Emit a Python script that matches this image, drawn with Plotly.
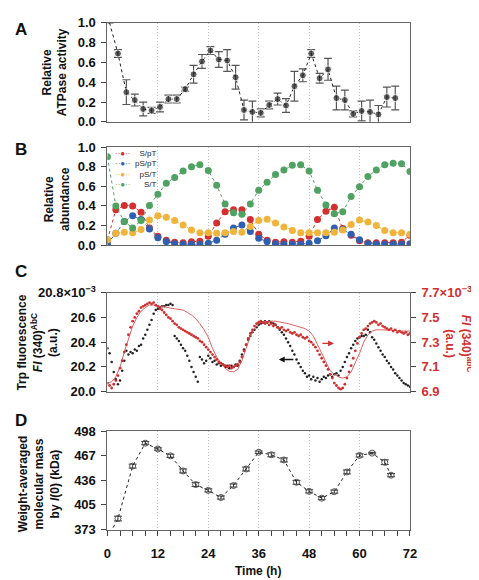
import plotly.graph_objects as go

# ---------------- Panel A: relative ATPase activity ----------------
A_time = [0.5 + 2 * i for i in range(35)]
A_val = [1.0, 0.69, 0.30, 0.22, 0.13, 0.115, 0.15, 0.23, 0.23, 0.33, 0.48,
         0.61, 0.72, 0.63, 0.62, 0.45, 0.12, 0.10, 0.09, 0.17, 0.23,
         0.165, 0.36, 0.47, 0.69, 0.44, 0.53, 0.24, 0.22, 0.08, 0.11,
         0.10, 0.075, 0.25, 0.24]
A_err = [0, 0.04, 0.125, 0.06, 0.07, 0.03, 0.05, 0.04, 0.04, 0.02, 0.09,
         0.07, 0.04, 0.08, 0.11, 0.12, 0.10, 0.11, 0.04, 0.04, 0.06,
         0.07, 0.15, 0.065, 0.04, 0.05, 0.11, 0.12, 0.10, 0.03, 0.10,
         0.12, 0.09, 0.10, 0.12]

# ---------------- Panel B: relative abundance ----------------
B_time = [2 * i for i in range(37)]
B_SpT = [0.055, 0.36, 0.405, 0.40, 0.335, 0.175, 0.09, 0.05, 0.03, 0.025,
         0.035, 0.04, 0.09, 0.225, 0.34, 0.36, 0.36, 0.26, 0.11, 0.05,
         0.03, 0.035, 0.03, 0.04, 0.09, 0.26, 0.345, 0.385, 0.17, 0.10,
         0.045, 0.025, 0.025, 0.025, 0.025, 0.03, 0.10]
B_pSpT = [0.015, 0.12, 0.24, 0.30, 0.26, 0.165, 0.075, 0.035, 0.015, 0.01,
          0.01, 0.01, 0.02, 0.05, 0.11, 0.175, 0.205, 0.14, 0.07, 0.035,
          0.015, 0.01, 0.01, 0.01, 0.02, 0.045, 0.095, 0.175, 0.16, 0.11,
          0.055, 0.015, 0.01, 0.01, 0.01, 0.01, 0.015]
B_pST = [0.055, 0.12, 0.13, 0.125, 0.16, 0.255, 0.30, 0.285, 0.25, 0.205,
         0.155, 0.125, 0.125, 0.12, 0.125, 0.14, 0.13, 0.19, 0.25, 0.265,
         0.225, 0.185, 0.15, 0.125, 0.125, 0.125, 0.125, 0.13, 0.155, 0.21,
         0.255, 0.235, 0.20, 0.15, 0.125, 0.125, 0.11]
B_ST = [0.90, 0.40, 0.24, 0.175, 0.25, 0.405, 0.52, 0.63, 0.69, 0.755,
        0.80, 0.82, 0.76, 0.61, 0.42, 0.33, 0.315, 0.42, 0.56, 0.64,
        0.72, 0.765, 0.815, 0.82, 0.755, 0.56, 0.41, 0.32, 0.34, 0.495,
        0.595, 0.70, 0.765, 0.82, 0.835, 0.83, 0.75]
B_names = ["S/pT", "pS/pT", "pS/T", "S/T"]
B_colors = ["#d42f2f", "#2f5fb0", "#f0b43a", "#4fa262"]

# ---------------- Panel C: Trp fluorescence ----------------
C_time = [0.5 * i for i in range(145)]
C_AbC = [20.35, 20.31, 20.24, 20.16, 20.10, 20.06, 20.09, 20.17, 20.25, 20.33,
         20.30, 20.32, 20.31, 20.34, 20.33, 20.37, 20.38, 20.43, 20.46, 20.50,
         20.54, 20.58, 20.63, 20.66, 20.67, 20.68, 20.69, 20.69, 20.70, 20.70,
         20.71, 20.70, 20.45, 20.43, 20.41, 20.38, 20.35, 20.33, 20.29, 20.25,
         20.20, 20.16, 20.12, 20.08, 20.28, 20.26, 20.23, 20.25, 20.29, 20.27,
         20.24, 20.25, 20.22, 20.23, 20.21, 20.22, 20.20, 20.21, 20.19, 20.21,
         20.20, 20.22, 20.21, 20.25, 20.30, 20.34, 20.38, 20.42, 20.45, 20.48,
         20.50, 20.52, 20.54, 20.55, 20.56, 20.57, 20.56, 20.57, 20.56, 20.55,
         20.54, 20.52, 20.50, 20.48, 20.46, 20.43, 20.40, 20.37, 20.33, 20.30,
         20.26, 20.23, 20.20, 20.17, 20.15, 20.12, 20.13, 20.10, 20.12, 20.09,
         20.11, 20.08, 20.10, 20.12, 20.11, 20.13, 20.14, 20.12, 20.14, 20.15,
         20.13, 20.17, 20.20, 20.24, 20.28, 20.31, 20.35, 20.38, 20.41, 20.43,
         20.44, 20.45, 20.45, 20.46, 20.50, 20.48, 20.44, 20.42, 20.39, 20.36,
         20.33, 20.30, 20.28, 20.25, 20.23, 20.20, 20.18, 20.15, 20.13, 20.11,
         20.09, 20.07, 20.06, 20.05, 20.04]
C_abC = [6.97, 6.95, 6.93, 6.96, 6.99, 7.03, 7.09, 7.15, 7.22, 7.28,
         7.36, 7.42, 7.47, 7.50, 7.53, 7.55, 7.58, 7.59, 7.60, 7.61,
         7.62, 7.61, 7.62, 7.60, 7.59, 7.57, 7.56, 7.54, 7.52, 7.50,
         7.49, 7.47, 7.45, 7.44, 7.42, 7.41, 7.40, 7.39, 7.38, 7.37,
         7.36, 7.35, 7.34, 7.33, 7.31, 7.30, 7.28, 7.26, 7.24, 7.22,
         7.20, 7.18, 7.16, 7.14, 7.13, 7.12, 7.11, 7.10, 7.11, 7.09,
         7.10, 7.11, 7.12, 7.14, 7.18, 7.23, 7.28, 7.33, 7.37, 7.40,
         7.43, 7.45, 7.46, 7.47, 7.46, 7.45, 7.46, 7.44, 7.45, 7.43,
         7.44, 7.42, 7.41, 7.42, 7.40, 7.39, 7.40, 7.38, 7.37, 7.38,
         7.36, 7.35, 7.36, 7.34, 7.33, 7.34, 7.31, 7.30, 7.28, 7.26,
         7.23, 7.20, 7.17, 7.14, 7.11, 7.08, 7.04, 7.01, 6.97, 6.95,
         6.93, 6.92, 6.93, 6.96, 7.01, 7.06, 7.11, 7.17, 7.23, 7.29,
         7.34, 7.37, 7.40, 7.41, 7.43, 7.45, 7.46, 7.47, 7.46, 7.44,
         7.45, 7.43, 7.42, 7.41, 7.40, 7.41, 7.39, 7.40, 7.38, 7.39,
         7.38, 7.37, 7.38, 7.36, 7.37]
C_fit_time = list(range(73))
C_fit = [6.97, 6.98, 7.02, 7.10, 7.22, 7.33, 7.43, 7.50, 7.55, 7.58,
         7.60, 7.60, 7.59, 7.59, 7.58, 7.575, 7.57, 7.565, 7.56, 7.54,
         7.52, 7.49, 7.45, 7.40, 7.34, 7.25, 7.18, 7.13, 7.09, 7.065,
         7.06, 7.08, 7.15, 7.25, 7.35, 7.41, 7.45, 7.465, 7.47, 7.47,
         7.47, 7.465, 7.46, 7.45, 7.44, 7.43, 7.42, 7.41, 7.39, 7.35,
         7.28, 7.21, 7.13, 7.07, 7.04, 7.02, 7.01, 7.02, 7.06, 7.13,
         7.21, 7.30, 7.36, 7.39, 7.40, 7.40, 7.40, 7.40, 7.40, 7.395,
         7.39, 7.39, 7.39]
C_left_ticks = [20.0, 20.2, 20.4, 20.6, 20.8]
C_left_text = ["20.0", "20.2", "20.4", "20.6", "20.8×10<sup>−3</sup>"]
C_right_ticks = [6.9, 7.1, 7.3, 7.5, 7.7]
C_right_text = ["6.9", "7.1", "7.3", "7.5", "7.7×10<sup>−3</sup>"]

# ---------------- Panel D: weight-averaged molecular mass ----------------
D_time = [0, 2.5, 6, 9, 12, 15, 18, 21, 24, 27, 30, 33, 36, 39, 42, 45, 48,
          51, 54, 57, 60, 63, 66, 67.5]
D_val = [362, 387, 453.9, 483.1, 475.7, 467, 447.7, 430.3, 422.9, 413.8,
         429.1, 450.1, 471.6, 468.3, 461.7, 433.2, 421.7, 413, 421.3, 446.4,
         467.5, 470.4, 458.8, 442.3]
D_err = [0, 3, 2.5, 2, 1.5, 2, 2.5, 2.5, 2, 2, 2, 2.5, 1.5, 2.5, 2.5, 2.5,
         2, 2, 2, 2.5, 2, 1, 3, 2]
D_ticks = [373, 405, 436, 467, 498]

FONT = "Liberation Sans, Arial, sans-serif"
RED = "#d03030"
W, H = 479, 580
XDOM = [97.7 / W, 407.3 / W]


def ydom(top, bottom):
    return [1 - bottom / H, 1 - top / H]


fig = go.Figure()

# A
fig.add_trace(go.Scatter(
    x=A_time, y=A_val, mode="lines+markers", xaxis="x", yaxis="y",
    line=dict(color="#222", width=1, dash="dot"),
    marker=dict(color="#222", size=[0] + [7] * (len(A_val) - 1)),
    error_y=dict(type="data", array=A_err, color="#555", thickness=1.2, width=4),
    showlegend=False))

# B
for name, vals, col in zip(B_names, [B_SpT, B_pSpT, B_pST, B_ST], B_colors):
    fig.add_trace(go.Scatter(
        x=B_time, y=vals, mode="lines+markers", xaxis="x2", yaxis="y2", name=name,
        line=dict(color=col, width=1, dash="dot"),
        marker=dict(color=col, size=7), showlegend=False))

# C
fig.add_trace(go.Scatter(
    x=C_fit_time, y=C_fit, mode="lines", xaxis="x3", yaxis="y5",
    line=dict(color="#e06060", width=1), showlegend=False))
fig.add_trace(go.Scatter(
    x=C_time, y=C_abC, mode="markers", xaxis="x3", yaxis="y5",
    marker=dict(color=RED, size=2.8), showlegend=False))
fig.add_trace(go.Scatter(
    x=C_time, y=C_AbC, mode="markers", xaxis="x3", yaxis="y3",
    marker=dict(color="#222", size=2.5), showlegend=False))

# D
fig.add_trace(go.Scatter(
    x=D_time, y=D_val, mode="lines+markers", xaxis="x4", yaxis="y4",
    line=dict(color="#222", width=1, dash="dot"),
    marker=dict(color="#555", size=6, symbol="circle-open", line=dict(width=1)),
    error_y=dict(type="data", array=D_err, color="#333", thickness=1, width=4),
    showlegend=False))

tickfont = dict(family=FONT, size=13, color="#111", weight="bold")
xbase = dict(range=[0, 72], domain=XDOM, tickmode="linear", tick0=0, dtick=12,
             showgrid=True, gridcolor="#c4c4c4", griddash="1px,2px", gridwidth=1,
             showline=True, linecolor="#666", linewidth=1, mirror=True,
             zeroline=False)
ybase = dict(showgrid=False, zeroline=False, showline=True, linecolor="#666",
             linewidth=1, mirror=True, ticks="outside", ticklen=5,
             tickcolor="#444", tickfont=tickfont, ticklabelstandoff=3)

layout = dict(
    width=W, height=H, margin=dict(l=0, r=0, t=0, b=0),
    paper_bgcolor="white", plot_bgcolor="white", showlegend=False,
    xaxis=dict(xbase, anchor="y", showticklabels=False, ticks=""),
    xaxis2=dict(xbase, anchor="y2", showticklabels=False, ticks=""),
    xaxis3=dict(xbase, anchor="y3", showticklabels=False, ticks=""),
    xaxis4=dict(xbase, anchor="y4", ticks="outside", ticklen=5, tickcolor="#444",
                tickfont=tickfont, ticklabelstandoff=7,
                minor=dict(dtick=3, tick0=0, ticks="outside", ticklen=5,
                           tickcolor="#444", showgrid=False)),
    yaxis=dict(ybase, domain=ydom(6, 108), range=[0, 1], anchor="x",
               tickvals=[0, 0.2, 0.4, 0.6, 0.8, 1.0], tickformat=".1f"),
    yaxis2=dict(ybase, domain=ydom(134, 235), range=[0, 1], anchor="x2",
                tickvals=[0, 0.2, 0.4, 0.6, 0.8, 1.0], tickformat=".1f"),
    yaxis3=dict(ybase, domain=ydom(284, 386), range=[20.0, 20.8], anchor="x3",
                tickvals=C_left_ticks, ticktext=C_left_text),
    yaxis5=dict(ybase, overlaying="y3", side="right", anchor="x3",
                range=[6.9, 7.7], tickvals=C_right_ticks, ticktext=C_right_text,
                tickfont=dict(tickfont, color=RED), mirror=False),
    yaxis4=dict(ybase, domain=ydom(427, 528), range=[373, 498], anchor="x4",
                tickvals=D_ticks),
)
fig.update_layout(**layout)

ann = []
title_font = dict(family=FONT, size=12, color="#111", weight="bold")


def add_text(text, x, y, angle=0, font=title_font, xanchor="center",
             yanchor="middle", align="center"):
    ann.append(dict(text=text, x=x / W, y=1 - y / H, xref="paper", yref="paper",
                    showarrow=False, textangle=angle, font=font, align=align,
                    xanchor=xanchor, yanchor=yanchor, borderpad=0))


letter_font = dict(family=FONT, size=17, color="#111", weight="bold")
for letter, yy in zip(["A", "B", "C", "D"], [12.5, 136.5, 262.5, 416]):
    add_text(letter, 2.5, yy, font=letter_font, xanchor="left")

add_text("Relative<br>ATPase activity", 43.5, 57.5, angle=-90)
add_text("Relative<br>abundance", 45.5, 187, angle=-90)
add_text("Trp fluorescence<br><i>FI</i> (340)<sup>AbC</sup><br>(a.u.)", 26, 335, angle=-90)
add_text("<i>FI</i> (340)<sup>abC</sup><br>(a.u.)", 457, 336, angle=90,
         font=dict(title_font, color=RED))
add_text("Weight-averaged<br>molecular mass<br>by <i>I</i>(0) (kDa)", 28, 481, angle=-90)
add_text("Time (h)", 252, 571)

# legend of panel B: one block of symbols and one block of labels
sym_lines = "<br>".join(f'<span style="color:{c}">··●··</span>' for c in B_colors)
add_text(sym_lines, 113.5, 157, font=dict(family=FONT, size=8, color="#222"))
add_text("<br>".join(B_names), 148, 157,
         font=dict(family=FONT, size=8, color="#222"), xanchor="right", align="right")

# arrows in panel C
ann.append(dict(x=40.8, y=20.26, ax=44.6, ay=20.26, xref="x3", yref="y3",
                axref="x3", ayref="y3", text="", showarrow=True, arrowhead=2,
                arrowsize=0.9, arrowwidth=1.3, arrowcolor="#111"))
ann.append(dict(x=53.9, y=7.29, ax=50.8, ay=7.29, xref="x3", yref="y5",
                axref="x3", ayref="y5", text="", showarrow=True, arrowhead=2,
                arrowsize=0.9, arrowwidth=1.3, arrowcolor=RED))

fig.update_layout(annotations=ann)
fig.write_html("out.html")
